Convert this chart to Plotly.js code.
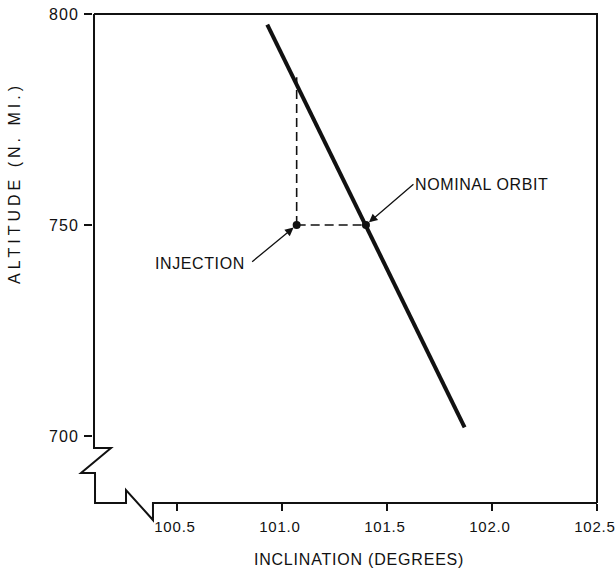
<!DOCTYPE html>
<html><head><meta charset="utf-8">
<script src="https://cdn.plot.ly/plotly-3.0.1.min.js"></script>
<style>
body{margin:0;background:#fff}
#chart{width:616px;height:571px}
.ytick text{letter-spacing:1px}
.xtick text{letter-spacing:0.8px}
.annotation-text{letter-spacing:0.6px}
.annotation[data-index="0"] .annotation-text{letter-spacing:4px}
.annotation[data-index="1"] .annotation-text{letter-spacing:0.8px}
</style></head>
<body><div id="chart"></div>
<script>
// ---- data ----
const orbitInclination = [100.93, 101.87];
const orbitAltitude = [797.5, 702];
const injectionInclination = [101.07];
const injectionAltitude = [750];
const nominalInclination = [101.40];
const nominalAltitude = [750];
const dropTopAltitude = [785];
const xTickVals = [100.5, 101.0, 101.5, 102.0, 102.5];
const xTickText = ["100.5", "101.0", "101.5", "102.0", "102.5"];
const yTickVals = [700, 750, 800];
const yTickText = ["700", "750", "800"];
const labels = {x: "INCLINATION (DEGREES)", y: "ALTITUDE (N. MI.)", inj: "INJECTION", nom: "NOMINAL ORBIT"};

const FONT = "Liberation Sans, Arial, sans-serif";
const INK = "#111";
const W = 616, H = 571, L = 93, R = 19, T = 14, B = 68;
const PW = W - L - R, PH = H - T - B;
function P(px, py) { return ((px - L) / PW).toFixed(4) + "," + ((H - B - py) / PH).toFixed(4); }
function path(pts) { return "M" + pts.map(p => P(p[0], p[1])).join(" L"); }

const traces = [
  {x: orbitInclination, y: orbitAltitude, mode: "lines", line: {color: INK, width: 4}, hoverinfo: "skip"},
  {x: [injectionInclination[0], injectionInclination[0]], y: [injectionAltitude[0], dropTopAltitude[0]],
   mode: "lines", line: {color: INK, width: 1.6, dash: "9px,5px"}, hoverinfo: "skip"},
  {x: [injectionInclination[0], nominalInclination[0]], y: [injectionAltitude[0], nominalAltitude[0]],
   mode: "lines", line: {color: INK, width: 1.6, dash: "9px,5px"}, hoverinfo: "skip"},
  {x: [injectionInclination[0], nominalInclination[0]], y: [injectionAltitude[0], nominalAltitude[0]],
   mode: "markers", marker: {color: INK, size: 8}, hoverinfo: "skip"}
];

const axisCommon = {showgrid: false, zeroline: false, showline: false, tickcolor: INK, tickwidth: 1.5,
  tickfont: {family: FONT, size: 16, color: INK}, fixedrange: true, ticklabeloverflow: "allow"};

const XR = [100.1, 102.5005], YR = [684.1, 800.001];
const layout = {
  width: W, height: H,
  margin: {l: L, r: R, t: T, b: B},
  paper_bgcolor: "#fff", plot_bgcolor: "#fff",
  showlegend: false,
  xaxis: Object.assign({}, axisCommon, {range: XR, tickmode: "array", tickvals: xTickVals, ticktext: xTickText,
    ticks: "outside", ticklen: 7, ticklabelstandoff: 3, ticklabelshift: -2,
    tickfont: {family: FONT, size: 15, color: INK}}),
  yaxis: Object.assign({}, axisCommon, {range: YR, tickmode: "array", tickvals: yTickVals, ticktext: yTickText,
    ticks: "outside", ticklen: 8, ticklabelstandoff: 2}),
  xaxis2: Object.assign({}, axisCommon, {range: XR, overlaying: "x", anchor: "y", tickmode: "array",
    tickvals: xTickVals, ticks: "inside", ticklen: 4, showticklabels: false}),
  yaxis2: Object.assign({}, axisCommon, {range: YR, overlaying: "y", anchor: "x", tickmode: "array",
    tickvals: yTickVals, ticks: "inside", ticklen: 6, showticklabels: false}),
  shapes: [
    {type: "path", xref: "paper", yref: "paper", layer: "above",
     path: path([[94, 14], [94, 448], [111, 448], [81, 473], [95, 473], [95, 503], [126, 503], [126, 490], [153, 520], [153, 503], [597, 503]]),
     line: {color: INK, width: 2}},
    {type: "path", xref: "paper", yref: "paper", layer: "above",
     path: path([[94, 14], [597, 14], [597, 503]]), line: {color: INK, width: 2}}
  ],
  annotations: [
    {text: labels.y, xref: "paper", yref: "paper", x: (15 - L) / PW, y: (H - B - 183) / PH, textangle: -90,
     showarrow: false, xanchor: "center", yanchor: "middle", font: {family: FONT, size: 16, color: INK}},
    {text: labels.x, xref: "paper", yref: "paper", x: (359 - L) / PW, y: (H - B - 559) / PH,
     showarrow: false, xanchor: "center", yanchor: "middle", font: {family: FONT, size: 16, color: INK}},
    {text: labels.inj, x: 100.61, y: 740.8, xref: "x", yref: "y", showarrow: false,
     font: {family: FONT, size: 16, color: INK}},
    {text: labels.nom, x: 101.948, y: 759.7, xref: "x", yref: "y", showarrow: false,
     font: {family: FONT, size: 16, color: INK}},
    {text: "", x: nominalInclination[0], y: nominalAltitude[0], xref: "x", yref: "y", ax: 49, ay: -42,
     showarrow: true, arrowhead: 2, arrowsize: 1.3, arrowwidth: 1.3, arrowcolor: INK, standoff: 4},
    {text: "", x: injectionInclination[0], y: injectionAltitude[0], xref: "x", yref: "y", ax: -46, ay: 38,
     showarrow: true, arrowhead: 2, arrowsize: 1.3, arrowwidth: 1.3, arrowcolor: INK, standoff: 4}
  ]
};

Plotly.newPlot("chart", traces, layout, {staticPlot: true, displayModeBar: false});
</script>
</body></html>
